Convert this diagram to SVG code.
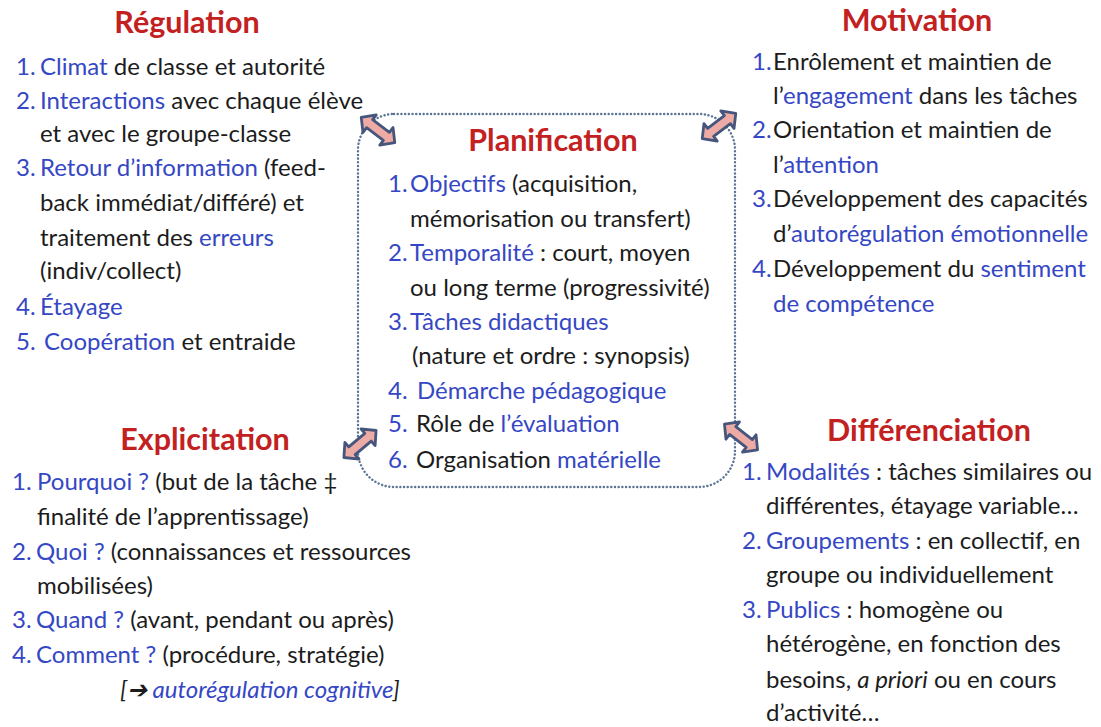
<svg xmlns="http://www.w3.org/2000/svg" width="1101" height="727" viewBox="0 0 1101 727">
<style>
text{font-family:Lato,"Open Sans","Liberation Sans",sans-serif;font-size:24px;fill:#1c1c1c}
.t{font-size:30.5px;font-weight:bold;fill:#c3211f;text-anchor:middle}
.b{fill:#3547c4}
.i{font-style:italic}
.box{fill:none;stroke:#5b7394;stroke-width:2.4;stroke-dasharray:0.1 3.6;stroke-linecap:round}
.arr{fill:#eeaba6;stroke:#45557c;stroke-width:2.8;stroke-linejoin:round}
</style>
<defs>
<polygon id="dbl" class="arr" points="-21,0 -10.5,-11 -10.5,-5 10.5,-5 10.5,-11 21,0 10.5,11 10.5,5 -10.5,5 -10.5,11"/>
</defs>
<rect width="1101" height="727" fill="#ffffff"/>

<g id="connectors">
<rect class="box" x="358" y="114" width="377" height="373" rx="36"/>
<use href="#dbl" transform="translate(378,130) rotate(37)"/>
<use href="#dbl" transform="translate(719,126) rotate(-37)"/>
<use href="#dbl" transform="translate(360,444) rotate(-40)"/>
<use href="#dbl" transform="translate(741,437) rotate(38)"/>
</g>

<g id="regulation">
<text class="t" x="187" y="33">Régulation</text>
<text class="b" x="16" y="75">1.</text><text x="40" y="75"><tspan class="b">Climat</tspan> de classe et autorité</text>
<text class="b" x="16" y="109">2.</text><text x="40" y="109"><tspan class="b">Interactions</tspan> avec chaque élève</text>
<text x="40" y="142">et avec le groupe-classe</text>
<text class="b" x="16" y="176">3.</text><text x="40" y="176"><tspan class="b">Retour d’information</tspan> (feed-</text>
<text x="40" y="211">back immédiat/différé) et</text>
<text x="40" y="246">traitement des <tspan class="b">erreurs</tspan></text>
<text x="40" y="279">(indiv/collect)</text>
<text class="b" x="16" y="315">4.</text><text class="b" x="40" y="315">Étayage</text>
<text class="b" x="16" y="350">5.</text><text x="44" y="350"><tspan class="b">Coopération</tspan> et entraide</text>
</g>

<g id="motivation">
<text class="t" x="917" y="31">Motivation</text>
<text class="b" x="752" y="70">1.</text><text x="773" y="70">Enrôlement et maintien de</text>
<text x="773" y="104">l’<tspan class="b">engagement</tspan> dans les tâches</text>
<text class="b" x="752" y="138">2.</text><text x="773" y="138">Orientation et maintien de</text>
<text x="773" y="173">l’<tspan class="b">attention</tspan></text>
<text class="b" x="752" y="207">3.</text><text x="773" y="207">Développement des capacités</text>
<text x="773" y="242">d’<tspan class="b">autorégulation émotionnelle</tspan></text>
<text class="b" x="752" y="277">4.</text><text x="773" y="277">Développement du <tspan class="b">sentiment</tspan></text>
<text class="b" x="773" y="312">de compétence</text>
</g>

<g id="planification">
<text class="t" x="553" y="151">Planification</text>
<text class="b" x="388" y="192">1.</text><text x="410" y="192"><tspan class="b">Objectifs</tspan> (acquisition,</text>
<text x="410" y="227">mémorisation ou transfert)</text>
<text class="b" x="388" y="261">2.</text><text x="410" y="261"><tspan class="b">Temporalité</tspan> : court, moyen</text>
<text x="410" y="296">ou long terme (progressivité)</text>
<text class="b" x="388" y="330">3.</text><text class="b" x="410" y="330">Tâches didactiques</text>
<text x="412" y="364">(nature et ordre : synopsis)</text>
<text class="b" x="388" y="399">4.</text><text class="b" x="417" y="399">Démarche pédagogique</text>
<text class="b" x="388" y="432">5.</text><text x="416" y="432">Rôle de <tspan class="b">l’évaluation</tspan></text>
<text class="b" x="388" y="468">6.</text><text x="416" y="468">Organisation <tspan class="b">matérielle</tspan></text>
</g>

<g id="explicitation">
<text class="t" x="205" y="450">Explicitation</text>
<text class="b" x="12" y="490">1.</text><text x="37" y="490"><tspan class="b">Pourquoi ?</tspan> (but de la tâche ‡</text>
<text x="37" y="525">finalité de l’apprentissage)</text>
<text class="b" x="12" y="560">2.</text><text x="36" y="560"><tspan class="b">Quoi ?</tspan> (connaissances et ressources</text>
<text x="37" y="594">mobilisées)</text>
<text class="b" x="12" y="628">3.</text><text x="36" y="628"><tspan class="b">Quand ?</tspan> (avant, pendant ou après)</text>
<text class="b" x="12" y="663">4.</text><text x="36" y="663"><tspan class="b">Comment ?</tspan> (procédure, stratégie)</text>
<text class="i" x="120" y="698">[➔ <tspan class="b">autorégulation cognitive</tspan>]</text>
</g>

<g id="differenciation">
<text class="t" x="929" y="441">Différenciation</text>
<text class="b" x="742" y="480">1.</text><text x="766" y="480"><tspan class="b">Modalités</tspan> : tâches similaires ou</text>
<text x="766" y="514">différentes, étayage variable…</text>
<text class="b" x="742" y="549">2.</text><text x="766" y="549"><tspan class="b">Groupements</tspan> : en collectif, en</text>
<text x="766" y="583">groupe ou individuellement</text>
<text class="b" x="742" y="618">3.</text><text x="766" y="618"><tspan class="b">Publics</tspan> : homogène ou</text>
<text x="766" y="652">hétérogène, en fonction des</text>
<text x="766" y="688">besoins, <tspan class="i">a priori</tspan> ou en cours</text>
<text x="766" y="721">d’activité…</text>
</g>
</svg>
